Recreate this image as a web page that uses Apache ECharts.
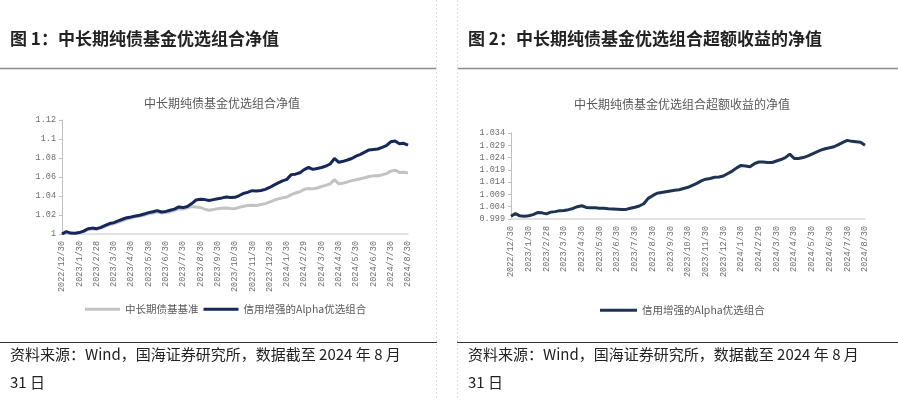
<!DOCTYPE html>
<html>
<head>
<meta charset="utf-8">
<script src="https://cdn.jsdelivr.net/npm/echarts@6/dist/echarts.min.js"></script>
<style>
html,body{margin:0;padding:0;background:#fff;}
#c{width:898px;height:400px;}
</style>
</head>
<body>
<div id="c"></div>
<script>
var dates = [
"2022/12/30","2023/1/6","2023/1/13","2023/1/20",
"2023/1/30","2023/2/6","2023/2/13","2023/2/20",
"2023/2/28","2023/3/7","2023/3/14","2023/3/21",
"2023/3/30","2023/4/7","2023/4/14","2023/4/21",
"2023/4/30","2023/5/8","2023/5/15","2023/5/22",
"2023/5/30","2023/6/7","2023/6/14","2023/6/21",
"2023/6/30","2023/7/7","2023/7/14","2023/7/21",
"2023/7/30","2023/8/7","2023/8/14","2023/8/21",
"2023/8/30","2023/9/7","2023/9/14","2023/9/21",
"2023/9/30","2023/10/8","2023/10/15","2023/10/22",
"2023/10/30","2023/11/7","2023/11/14","2023/11/21",
"2023/11/30","2023/12/7","2023/12/14","2023/12/21",
"2023/12/30","2024/1/7","2024/1/14","2024/1/21",
"2024/1/30","2024/2/6","2024/2/13","2024/2/20",
"2024/2/29","2024/3/7","2024/3/14","2024/3/21",
"2024/3/30","2024/4/7","2024/4/14","2024/4/21",
"2024/4/30","2024/5/8","2024/5/15","2024/5/22",
"2024/5/30","2024/6/7","2024/6/14","2024/6/21",
"2024/6/30","2024/7/7","2024/7/14","2024/7/21",
"2024/7/30","2024/8/7","2024/8/14","2024/8/21",
"2024/8/30"];

var tickLabels = ["2022/12/30","2023/1/30","2023/2/28","2023/3/30","2023/4/30","2023/5/30","2023/6/30","2023/7/30","2023/8/30","2023/9/30","2023/10/30","2023/11/30","2023/12/30","2024/1/30","2024/2/29","2024/3/30","2024/4/30","2024/5/30","2024/6/30","2024/7/30","2024/8/30"];

// 中长期债基基准
var benchmark = [
1.000,1.0015,1.0005,1.0005,
1.0012,1.0025,1.0045,1.0055,
1.005,1.0062,1.008,1.0098,
1.011,1.0125,1.014,1.0158,
1.0168,1.018,1.019,1.0198,
1.0212,1.022,1.023,1.022,
1.0225,1.0235,1.0248,1.0265,
1.0262,1.0275,1.0288,1.0285,
1.028,1.0262,1.025,1.0258,
1.0267,1.0272,1.0274,1.0268,
1.0267,1.028,1.0292,1.030,
1.0302,1.030,1.031,1.032,
1.0335,1.0355,1.037,1.0382,
1.039,1.0415,1.0432,1.0445,
1.047,1.0478,1.0475,1.0484,
1.050,1.0512,1.0528,1.0572,
1.0528,1.0535,1.0548,1.0562,
1.0572,1.0582,1.0592,1.0605,
1.0612,1.0614,1.0622,1.0635,
1.0662,1.0672,1.0648,1.065,
1.0643];

// 信用增强的Alpha优选组合
var alpha = [
1.000,1.0025,1.001,1.0008,
1.0015,1.003,1.0055,1.0062,
1.0056,1.007,1.009,1.011,
1.012,1.0138,1.0155,1.0172,
1.018,1.019,1.0198,1.021,
1.0225,1.0235,1.0246,1.0232,
1.0238,1.025,1.0262,1.0285,
1.0278,1.029,1.032,1.0358,
1.0365,1.0362,1.0352,1.0362,
1.0372,1.038,1.039,1.0384,
1.0386,1.0405,1.0428,1.044,
1.0456,1.0452,1.0458,1.047,
1.049,1.0515,1.0538,1.056,
1.0575,1.0625,1.063,1.0645,
1.0678,1.0702,1.068,1.069,
1.070,1.0715,1.0737,1.0795,
1.0755,1.0765,1.0779,1.0795,
1.082,1.0838,1.0862,1.0885,
1.089,1.0895,1.0912,1.093,
1.097,1.0978,1.095,1.0955,
1.0935];

// 超额收益净值
var excess = [
1.0001,1.0012,1.0003,1.0001,
1.0003,1.0008,1.0016,1.0015,
1.0011,1.0018,1.002,1.0024,
1.0025,1.0028,1.0033,1.004,
1.0044,1.0037,1.0036,1.0036,
1.0034,1.0034,1.0032,1.0031,
1.003,1.0029,1.0029,1.0034,
1.0038,1.0043,1.0052,1.0074,
1.0085,1.0095,1.0098,1.0101,
1.0104,1.0107,1.0109,1.0114,
1.0119,1.0127,1.0135,1.0145,
1.0152,1.0155,1.016,1.0161,
1.0165,1.0175,1.0185,1.0198,
1.0208,1.0206,1.0203,1.0215,
1.0222,1.0222,1.022,1.022,
1.0226,1.0232,1.024,1.0254,
1.0236,1.0236,1.024,1.0246,
1.0254,1.0262,1.027,1.0276,
1.028,1.0284,1.0293,1.0302,
1.031,1.0306,1.0304,1.0302,
1.029];

var leftYTicks = {min: 1, max: 1.12, interval: 0.02};
var rightYTicks = {min: 0.999, max: 1.034, interval: 0.005};

var labelFont = "'Liberation Mono','DejaVu Sans Mono',monospace";
var cjk = "'Noto Sans CJK SC',sans-serif";
var gray = '#6e6e6e';

function xAxisCfg(gridIndex) {
  return {
    type: 'category', gridIndex: gridIndex, data: dates, boundaryGap: false,
    axisLine: {lineStyle: {color: '#d9d9d9', width: 1.5}},
    axisTick: {show: false},
    axisLabel: {
      rotate: 90, margin: 7, fontSize: 8.5, color: gray, fontFamily: labelFont,
      interval: function (i, v) { return tickLabels.indexOf(v) >= 0; }
    },
    splitLine: {show: false}
  };
}

var chart = echarts.init(document.getElementById('c'), null, {renderer: 'canvas'});
chart.setOption({
  animation: false,
  backgroundColor: '#fff',
  title: [
    {text: '中长期纯债基金优选组合净值', left: 217, top: 92, textAlign: 'center',
     textStyle: {fontSize: 12, fontWeight: 'normal', color: '#595959', fontFamily: cjk}},
    {text: '中长期纯债基金优选组合超额收益的净值', left: 677, top: 93, textAlign: 'center',
     textStyle: {fontSize: 12, fontWeight: 'normal', color: '#595959', fontFamily: cjk}}
  ],
  legend: [
    {data: ['中长期债基基准', '信用增强的Alpha优选组合'], left: 80, top: 299,
     icon: 'rect', itemWidth: 35, itemHeight: 3, itemGap: 5,
     textStyle: {fontSize: 10.5, color: '#595959', fontFamily: cjk}},
    {data: ['信用增强的Alpha优选组合 '], left: 595, top: 300, icon: 'rect', itemWidth: 37, itemHeight: 3,
     textStyle: {fontSize: 10.5, color: '#595959', fontFamily: cjk}}
  ],
  grid: [
    {left: 62, right: 490, top: 120, bottom: 166},
    {left: 511, right: 33, top: 133, bottom: 181}
  ],
  xAxis: [xAxisCfg(0), xAxisCfg(1)],
  yAxis: [
    {type: 'value', gridIndex: 0, min: leftYTicks.min, max: leftYTicks.max, interval: leftYTicks.interval,
     axisLine: {show: true, lineStyle: {color: '#bfbfbf'}},
     axisTick: {show: true, length: 3, lineStyle: {color: '#bfbfbf'}},
     axisLabel: {fontSize: 8.5, color: gray, fontFamily: labelFont, margin: 6,
       formatter: function (v) { return String(+v.toFixed(2)); }},
     splitLine: {show: false}},
    {type: 'value', gridIndex: 1, min: rightYTicks.min, max: rightYTicks.max, interval: rightYTicks.interval,
     axisLine: {show: true, lineStyle: {color: '#bfbfbf'}},
     axisTick: {show: true, length: 3, lineStyle: {color: '#bfbfbf'}},
     axisLabel: {fontSize: 8.5, color: gray, fontFamily: labelFont, margin: 6,
       formatter: function (v) { return v.toFixed(3); }},
     splitLine: {show: false}}
  ],
  series: [
    {name: '中长期债基基准', type: 'line', xAxisIndex: 0, yAxisIndex: 0, data: benchmark,
     showSymbol: false, lineStyle: {color: '#c3c3c3', width: 3}, itemStyle: {color: '#c3c3c3'}},
    {name: '信用增强的Alpha优选组合', type: 'line', xAxisIndex: 0, yAxisIndex: 0, data: alpha,
     showSymbol: false, lineStyle: {color: '#16275c', width: 3}, itemStyle: {color: '#16275c'}},
    {name: '信用增强的Alpha优选组合 ', type: 'line', xAxisIndex: 1, yAxisIndex: 1, data: excess,
     showSymbol: false, lineStyle: {color: '#1f3352', width: 3}, itemStyle: {color: '#1f3352'}}
  ],
  graphic: [
    {type: 'text', left: 10, top: 30, style: {text: '图 1：中长期纯债基金优选组合净值', fontSize: 17, fontWeight: 'bold', fill: '#222', fontFamily: cjk}},
    {type: 'text', left: 468, top: 30, style: {text: '图 2：中长期纯债基金优选组合超额收益的净值', fontSize: 17, fontWeight: 'bold', fill: '#222', fontFamily: cjk}},
    {type: 'line', shape: {x1: 0, y1: 68.5, x2: 437, y2: 68.5}, style: {stroke: '#8c8c8c', lineWidth: 1.5}},
    {type: 'line', shape: {x1: 457, y1: 68.5, x2: 898, y2: 68.5}, style: {stroke: '#8c8c8c', lineWidth: 1.5}},
    {type: 'line', shape: {x1: 0, y1: 342.5, x2: 437, y2: 342.5}, style: {stroke: '#333', lineWidth: 1}},
    {type: 'line', shape: {x1: 457, y1: 342.5, x2: 898, y2: 342.5}, style: {stroke: '#333', lineWidth: 1}},
    {type: 'line', shape: {x1: 436.5, y1: 0, x2: 436.5, y2: 400}, style: {stroke: '#dcdcdc', lineWidth: 1, lineDash: [2, 2]}},
    {type: 'line', shape: {x1: 457.5, y1: 0, x2: 457.5, y2: 400}, style: {stroke: '#dcdcdc', lineWidth: 1, lineDash: [2, 2]}},
    {type: 'text', left: 10, top: 347, style: {text: '资料来源：Wind，国海证券研究所，数据截至 2024 年 8 月', fontSize: 15, fill: '#222', fontFamily: cjk}},
    {type: 'text', left: 10, top: 375, style: {text: '31 日', fontSize: 15, fill: '#222', fontFamily: cjk}},
    {type: 'text', left: 468, top: 347, style: {text: '资料来源：Wind，国海证券研究所，数据截至 2024 年 8 月', fontSize: 15, fill: '#222', fontFamily: cjk}},
    {type: 'text', left: 468, top: 375, style: {text: '31 日', fontSize: 15, fill: '#222', fontFamily: cjk}}
  ]
});
</script>
</body>
</html>
